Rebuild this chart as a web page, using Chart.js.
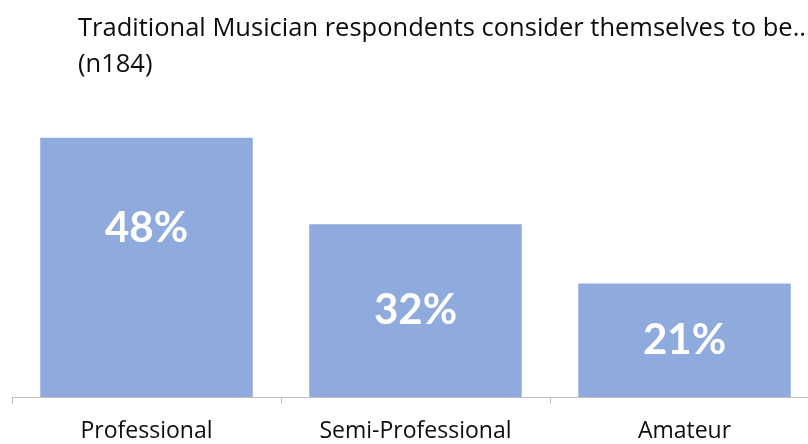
<!DOCTYPE html>
<html>
<head>
<meta charset="utf-8">
<script src="https://cdn.jsdelivr.net/npm/chart.js@4"></script>
<style>
  html, body { margin: 0; padding: 0; background: #fff; overflow: hidden; }
  #wrap { position: relative; width: 819px; height: 444px; }
</style>
</head>
<body>
<div id="wrap"><canvas id="chart"></canvas></div>
<script>
const categories = ['Professional', 'Semi-Professional', 'Amateur']
const shares = [48, 32, 21]
const titleLines = ['Traditional Musician respondents consider themselves to be..', '(n184)']

const TEXT_FONT = '"Open Sans", sans-serif'
const LABEL_FONT = 'Lato, "Open Sans", sans-serif'

// title block in the top-left corner
const titlePlugin = {
  id: 'titleText',
  afterDraw(chart) {
    const ctx = chart.ctx
    ctx.save()
    ctx.fillStyle = '#0d0d0d'
    ctx.font = '25.5px ' + TEXT_FONT
    ctx.textBaseline = 'alphabetic'
    ctx.textAlign = 'left'
    titleLines.forEach((line, i) => ctx.fillText(line, 78, 36 + i * 36))
    ctx.restore()
  }
}

// white percentage inside each bar
const barLabels = {
  id: 'barLabels',
  afterDatasetsDraw(chart, args, opts) {
    const ctx = chart.ctx
    const meta = chart.getDatasetMeta(0)
    ctx.save()
    ctx.fillStyle = '#ffffff'
    ctx.font = 'bold 42px ' + LABEL_FONT
    ctx.textAlign = 'center'
    ctx.textBaseline = 'middle'
    meta.data.forEach((bar, i) => {
      const mid = (bar.y + bar.base) / 2 - (opts.lift[i] || 0)
      ctx.fillText(shares[i] + '%', bar.x, mid)
    })
    ctx.restore()
  }
}

new Chart(document.getElementById('chart'), {
  type: 'bar',
  data: {
    labels: categories,
    datasets: [{
      data: shares,
      backgroundColor: '#8faadc',
      borderWidth: 0,
      barPercentage: 0.79,
      categoryPercentage: 1
    }]
  },
  plugins: [titlePlugin, barLabels],
  options: {
    responsive: true,
    maintainAspectRatio: false,
    animation: false,
    layout: { padding: { top: 127, left: 12, right: 0, bottom: 0 } },
    plugins: {
      legend: { display: false },
      tooltip: { enabled: false },
      barLabels: { lift: [39, 0, 0] }
    },
    scales: {
      x: {
        border: { color: '#bfbfbf', width: 1 },
        grid: { drawOnChartArea: false, drawTicks: true, tickLength: 7, color: '#bfbfbf', offset: true },
        ticks: { color: '#0d0d0d', font: { family: TEXT_FONT, size: 23 }, padding: 14 },
        afterFit(scale) { scale.height = 47 }
      },
      y: {
        display: false,
        min: 0,
        max: 50
      }
    }
  }
})
</script>
</body>
</html>
